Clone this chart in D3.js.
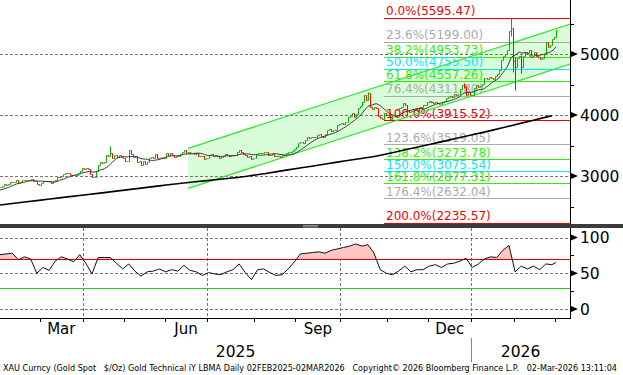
<!DOCTYPE html>
<html>
<head>
<meta charset="utf-8">
<script src="https://cdn.jsdelivr.net/npm/d3@7"></script>
<style>
  body { margin: 0; background: #fff; }
  text { font-family: "DejaVu Sans", sans-serif; }
</style>
</head>
<body>
<div id="chart"></div>
<script>
// months on the axis and trading days in each
const monthNames = ["Feb", "Mar", "Apr", "May", "Jun", "Jul", "Aug", "Sep", "Oct", "Nov", "Dec", "Jan", "Feb", "Mar"];
const monthDays = [20, 21, 20, 20, 21, 23, 20, 22, 23, 20, 21, 21, 20, 1];
const labelledMonths = [1, 4, 7, 10];   // Mar, Jun, Sep, Dec
const quarterMonths = [2, 5, 8, 11];    // Apr, Jul, Oct, Jan
const yearLabels = ["2025", "2026"];
const yearStartMonth = [0, 11];

// daily closes
const closesFeb25 = [2815, 2843, 2867, 2856, 2861, 2908, 2898, 2905, 2929, 2883, 2898, 2935, 2933, 2940, 2936, 2952, 2915, 2916, 2876, 2858];
const closesMar25 = [2893, 2918, 2920, 2911, 2910, 2888, 2916, 2934, 2988, 2984, 3001, 3034, 3048, 3044, 3022, 3012, 3019, 3020, 3057, 3085, 3124];
const closesApr25 = [3113, 3134, 3114, 3037, 2982, 2983, 3083, 3175, 3237, 3211, 3226, 3343, 3327, 3381, 3288, 3349, 3319, 3343, 3317, 3289];
const closesMay25 = [3238, 3240, 3431, 3366, 3306, 3325, 3229, 3250, 3177, 3240, 3204, 3230, 3290, 3315, 3295, 3358, 3301, 3288, 3318, 3289];
const closesJun25 = [3380, 3352, 3374, 3352, 3310, 3325, 3322, 3354, 3387, 3432, 3385, 3388, 3370, 3369, 3368, 3369, 3323, 3332, 3328, 3274, 3303];
const closesJul25 = [3338, 3357, 3326, 3337, 3335, 3301, 3313, 3325, 3355, 3343, 3324, 3347, 3339, 3350, 3397, 3431, 3388, 3368, 3337, 3314, 3326, 3274, 3290];
const closesAug25 = [3363, 3373, 3381, 3370, 3397, 3398, 3342, 3348, 3356, 3335, 3336, 3332, 3315, 3347, 3339, 3372, 3393, 3396, 3416, 3448];
const closesSep25 = [3476, 3533, 3559, 3545, 3587, 3636, 3625, 3641, 3634, 3643, 3679, 3690, 3659, 3644, 3685, 3747, 3764, 3736, 3749, 3760, 3833, 3859];
const closesOct25 = [3866, 3857, 3886, 3961, 3985, 4040, 3975, 4017, 4110, 4142, 4209, 4326, 4252, 4356, 4125, 4094, 4126, 4112, 3982, 3952, 3930, 4025, 4002];
const closesNov25 = [4000, 3932, 3980, 3977, 4001, 4116, 4128, 4195, 4172, 4085, 4046, 4067, 4078, 4077, 4065, 4135, 4132, 4165, 4156, 4218];
const closesDec25 = [4231, 4206, 4200, 4207, 4197, 4188, 4208, 4228, 4279, 4300, 4305, 4303, 4339, 4330, 4340, 4420, 4490, 4480, 4330, 4370, 4320];
const closesJan26 = [4330, 4440, 4495, 4455, 4475, 4510, 4600, 4590, 4630, 4610, 4590, 4640, 4680, 4740, 4900, 4960, 5000, 5060, 5380, 5420, 4880];
const closesFeb26 = [4790, 4940, 4970, 4780, 4960, 5040, 5010, 5070, 4990, 5040, 4970, 4950, 4920, 4940, 5000, 5190, 5120, 5150, 5240, 5280];
const closesMar26 = [5390];
// closes before the window, only for the short moving average
const priorCloses = [2743, 2755, 2754, 2771, 2740, 2763, 2760, 2795, 2798];

// days whose range reaches past the open/close
const spikeIdx = [54, 180, 227, 250, 251, 252, 255];
const spikeHigh = [3500, 4381, 4530, 5595, 5420, 4950, 4980];
const spikeLow = [3370, 4250, 4440, 5300, 4700, 4410, 4690];

// 200 day average, every 10th bar
const ma200 = [2525, 2565, 2605, 2645, 2684, 2724, 2765, 2806, 2847, 2886, 2920, 2956, 2993, 3042,
  3096, 3148, 3200, 3254, 3303, 3369, 3442, 3516, 3592, 3667, 3744, 3825, 3907, 3989];

// RSI, every 3rd bar, last one is the final bar
const rsi = [76, 77, 78, 69, 73, 70, 50, 58, 54, 67, 73, 70, 66, 76, 64, 49, 72, 72, 72, 64,
  56, 63, 53, 46, 52, 53, 56, 52, 55, 53, 61, 54, 52, 47, 51, 49, 48, 52, 55, 63,
  51, 41, 55, 56, 51, 47, 48, 56, 66, 77, 78, 79, 80, 78, 82, 84, 86, 88, 91, 88,
  90, 78, 55, 50, 48, 53, 60, 52, 55, 55, 60, 62, 58, 63, 64, 67, 71, 58, 63, 70,
  73, 72, 82, 89, 52, 60, 56, 60, 55, 63, 62, 65];

// fibonacci retracement
const fibPct = ["0.0", "23.6", "38.2", "50.0", "61.8", "76.4", "100.0", "123.6", "138.2", "150.0", "161.8", "176.4", "200.0"];
const fibPrice = [5595.47, 5199.00, 4953.73, 4755.50, 4557.26, 4311.80, 3915.52, 3519.05, 3273.78, 3075.54, 2877.31, 2632.04, 2235.57];
const fibColor = ["#ee0000", "#aaaaaa", "#33ee00", "#00e8ff", "#33ee00", "#aaaaaa", "#ee0000", "#aaaaaa", "#33ee00", "#00e8ff", "#33ee00", "#aaaaaa", "#ee0000"];
const fibStart = 188;

// trend channel: [start bar, end bar], upper and lower prices
const channelIdx = [92, 279];
const channelUpper = [3454, 5492];
const channelLower = [2798, 4836];

const priceTicks = [3000, 4000, 5000];
const priceMinor = [2500, 3500, 4500, 5500];
const rsiTicks = [0, 50, 100];
const rsiMinor = [25, 75];

const footer = "XAU Curncy (Gold Spot   $/Oz) Gold Technical iY LBMA Daily 02FEB2025-02MAR2026   Copyright\u00a9 2026 Bloomberg Finance L.P.   02-Mar-2026 13:11:04";

const closes = [].concat(closesFeb25, closesMar25, closesApr25, closesMay25, closesJun25, closesJul25,
  closesAug25, closesSep25, closesOct25, closesNov25, closesDec25, closesJan26, closesFeb26, closesMar26);
const n = closes.length;

const bars = closes.map(function(c, i) {
  const o = i === 0 ? c : closes[i - 1];
  let hi = Math.max(o, c), lo = Math.min(o, c);
  const s = spikeIdx.indexOf(i);
  if (s >= 0) { hi = Math.max(hi, spikeHigh[s]); lo = Math.min(lo, spikeLow[s]); }
  return { i: i, o: o, c: c, h: hi, l: lo };
});

// 10 day simple average
const all = priorCloses.concat(closes);
const ma10 = closes.map(function(c, i) {
  return d3.mean(all.slice(i, i + 10));
});

// month starts in bar index
const monthStart = [];
let acc = 0;
monthDays.forEach(function(d) { monthStart.push(acc); acc += d; });

const W = 623, H = 375;
const right = 570;

const x = d3.scaleLinear().domain([0, n - 1]).range([0, 556]);
const y = d3.scaleLinear().domain([3000, 5000]).range([176, 54]);
const yR = d3.scaleLinear().domain([0, 100]).range([309, 237.5]);
const px = function(i) { return Math.round(x(i)) + 0.5; };
const py = function(v) { return Math.round(y(v)) + 0.5; };

const svg = d3.select("#chart").append("svg")
  .attr("width", W)
  .attr("height", H);

svg.append("rect").attr("width", W).attr("height", H).attr("fill", "#fff");

const defs = svg.append("defs");
defs.append("clipPath").attr("id", "clipMain")
  .append("rect").attr("x", 0).attr("y", 0).attr("width", right).attr("height", 224);
defs.append("clipPath").attr("id", "clipRsi")
  .append("rect").attr("x", 0).attr("y", 228).attr("width", right).attr("height", 90);
defs.append("clipPath").attr("id", "clipOver")
  .append("rect").attr("x", 0).attr("y", 228).attr("width", right).attr("height", yR(70) - 228);

// ---------- main panel ----------
const main = svg.append("g").attr("clip-path", "url(#clipMain)");

const chan = [
  [x(channelIdx[0]), y(channelUpper[0])],
  [x(channelIdx[1]), y(channelUpper[1])],
  [x(channelIdx[1]), y(channelLower[1])],
  [x(channelIdx[0]), y(channelLower[0])]
];
main.append("polygon")
  .attr("points", chan.map(function(p) { return p.join(","); }).join(" "))
  .attr("fill", "#d8fdd8");

main.selectAll(".grid")
  .data(priceTicks)
  .enter().append("line")
  .attr("x1", 0).attr("x2", right)
  .attr("y1", function(d) { return py(d); })
  .attr("y2", function(d) { return py(d); })
  .attr("stroke", "#777").attr("stroke-dasharray", "3,2");

main.selectAll(".fib")
  .data(fibPrice)
  .enter().append("line")
  .attr("x1", Math.round(x(fibStart))).attr("x2", right)
  .attr("y1", function(d) { return py(d); })
  .attr("y2", function(d) { return py(d); })
  .attr("stroke", function(d, i) { return fibColor[i]; })
  .attr("stroke-width", 1.2);

main.selectAll(".fibLabel")
  .data(fibPrice)
  .enter().append("text")
  .attr("x", Math.round(x(fibStart)) + 2)
  .attr("y", function(d) { return y(d) - 2.5; })
  .attr("fill", function(d, i) { return fibColor[i]; })
  .attr("font-size", "12px")
  .text(function(d, i) { return fibPct[i] + "%(" + d.toFixed(2) + ")"; });

main.append("line")
  .attr("x1", chan[0][0]).attr("y1", chan[0][1])
  .attr("x2", chan[1][0]).attr("y2", chan[1][1])
  .attr("stroke", "#33e633").attr("stroke-width", 1.3);
main.append("line")
  .attr("x1", chan[3][0]).attr("y1", chan[3][1])
  .attr("x2", chan[2][0]).attr("y2", chan[2][1])
  .attr("stroke", "#33e633").attr("stroke-width", 1.3);

main.append("path")
  .datum(ma200)
  .attr("fill", "none")
  .attr("stroke", "#000")
  .attr("stroke-width", 1.6)
  .attr("d", d3.line()
    .x(function(d, i) { return x(Math.min(i * 10, n - 1)); })
    .y(function(d) { return y(d); })
    .curve(d3.curveMonotoneX));

const barG = main.append("g");
barG.selectAll(".bar")
  .data(bars)
  .enter().append("path")
  .attr("fill", "none")
  .attr("stroke", function(d) { return d.c >= d.o ? "#00b400" : "#ff0000"; })
  .attr("stroke-width", 1)
  .attr("d", function(d) {
    const xx = px(d.i);
    return "M" + xx + "," + py(d.h) + "V" + py(d.l) +
      "M" + (xx - 1) + "," + py(d.o) + "H" + xx +
      "M" + xx + "," + py(d.c) + "H" + (xx + 1);
  });

main.append("path")
  .datum(ma10)
  .attr("fill", "none")
  .attr("stroke", "#3a3a3a")
  .attr("stroke-width", 1)
  .attr("d", d3.line()
    .x(function(d, i) { return x(i); })
    .y(function(d) { return y(d); }));

// ---------- RSI panel ----------
const low = svg.append("g").attr("clip-path", "url(#clipRsi)");
const rsiX = function(d, i) { return x(Math.min(i * 3, n - 1)); };

low.selectAll(".grid")
  .data(rsiTicks)
  .enter().append("line")
  .attr("x1", 0).attr("x2", right)
  .attr("y1", function(d) { return Math.round(yR(d)) + 0.5; })
  .attr("y2", function(d) { return Math.round(yR(d)) + 0.5; })
  .attr("stroke", "#777").attr("stroke-dasharray", "3,2");

low.selectAll(".qgrid")
  .data(quarterMonths)
  .enter().append("line")
  .attr("x1", function(d) { return Math.round(x(monthStart[d] - 0.5)) + 0.5; })
  .attr("x2", function(d) { return Math.round(x(monthStart[d] - 0.5)) + 0.5; })
  .attr("y1", 228).attr("y2", 318)
  .attr("stroke", "#777").attr("stroke-dasharray", "3,2");

low.append("path")
  .datum(rsi)
  .attr("clip-path", "url(#clipOver)")
  .attr("fill", "#ffc4c4")
  .attr("d", d3.area().x(rsiX).y0(yR(70)).y1(function(d) { return yR(d); }));

low.append("line")
  .attr("x1", 0).attr("x2", right)
  .attr("y1", Math.round(yR(70)) + 0.5).attr("y2", Math.round(yR(70)) + 0.5)
  .attr("stroke", "#dd0000").attr("stroke-width", 1.2);
low.append("line")
  .attr("x1", 0).attr("x2", right)
  .attr("y1", Math.round(yR(30)) + 0.5).attr("y2", Math.round(yR(30)) + 0.5)
  .attr("stroke", "#22cc22").attr("stroke-width", 1.2);

low.append("path")
  .datum(rsi)
  .attr("fill", "none")
  .attr("stroke", "#111")
  .attr("stroke-width", 1)
  .attr("d", d3.line().x(rsiX).y(function(d) { return yR(d); }));

// ---------- separator ----------
svg.append("rect").attr("x", 0).attr("y", 224).attr("width", W).attr("height", 4).attr("fill", "#3c3c3c");
[225.5, 227].forEach(function(yy) {
  svg.append("line").attr("x1", 303).attr("x2", 318).attr("y1", yy).attr("y2", yy)
    .attr("stroke", "#aaa").attr("stroke-width", 0.8);
});

// ---------- right axis ----------
const axisG = svg.append("g");
axisG.append("line").attr("x1", right + 0.5).attr("x2", right + 0.5).attr("y1", 0).attr("y2", 224)
  .attr("stroke", "#000");
axisG.append("line").attr("x1", right + 0.5).attr("x2", right + 0.5).attr("y1", 228).attr("y2", 319)
  .attr("stroke", "#000");

function arrowTicks(ticks, scale) {
  axisG.selectAll(null)
    .data(ticks)
    .enter().append("path")
    .attr("d", function(d) {
      const yy = scale(d);
      return "M" + (right + 1) + "," + (yy - 3) + "L" + (right + 8) + "," + yy + "L" + (right + 1) + "," + (yy + 3) + "Z";
    })
    .attr("fill", "#000");
  axisG.selectAll(null)
    .data(ticks)
    .enter().append("text")
    .attr("x", right + 10)
    .attr("y", function(d) { return scale(d); })
    .attr("dy", "0.36em")
    .attr("font-size", "15.5px")
    .attr("fill", "#000")
    .text(function(d) { return d; });
}
function minorTicks(ticks, scale) {
  axisG.selectAll(null)
    .data(ticks)
    .enter().append("line")
    .attr("x1", right).attr("x2", right + 4)
    .attr("y1", function(d) { return Math.round(scale(d)) + 0.5; })
    .attr("y2", function(d) { return Math.round(scale(d)) + 0.5; })
    .attr("stroke", "#000");
}
arrowTicks(priceTicks, y);
minorTicks(priceMinor, y);
arrowTicks(rsiTicks, yR);
minorTicks(rsiMinor, yR);

// ---------- bottom axis ----------
axisG.append("line").attr("x1", 0).attr("x2", right + 1).attr("y1", 318.5).attr("y2", 318.5)
  .attr("stroke", "#000");

axisG.selectAll(".mtick")
  .data(monthStart.slice(1))
  .enter().append("line")
  .attr("x1", function(d) { return Math.round(x(d - 0.5)) + 0.5; })
  .attr("x2", function(d) { return Math.round(x(d - 0.5)) + 0.5; })
  .attr("y1", 318).attr("y2", 322)
  .attr("stroke", "#000");

axisG.selectAll(".mlabel")
  .data(labelledMonths)
  .enter().append("text")
  .attr("x", function(m) { return x(monthStart[m] + (monthDays[m] - 1) / 2); })
  .attr("y", 334)
  .attr("text-anchor", "middle")
  .attr("font-size", "15px")
  .text(function(m) { return monthNames[m]; });

const yearEdges = yearStartMonth.map(function(m) { return m === 0 ? 0 : x(monthStart[m] - 0.5); });
axisG.selectAll(".ylabel")
  .data(yearLabels)
  .enter().append("text")
  .attr("x", function(d, i) {
    const a = yearEdges[i], b = i + 1 < yearEdges.length ? yearEdges[i + 1] : right;
    return (a + b) / 2;
  })
  .attr("y", 357)
  .attr("text-anchor", "middle")
  .attr("font-size", "15.5px")
  .text(function(d) { return d; });

axisG.append("line")
  .attr("x1", Math.round(yearEdges[1]) + 0.5).attr("x2", Math.round(yearEdges[1]) + 0.5)
  .attr("y1", 338).attr("y2", 362)
  .attr("stroke", "#888");

svg.append("text")
  .attr("x", 3)
  .attr("y", 371)
  .attr("font-size", "9px")
  .style("white-space", "pre")
  .attr("textLength", 614)
  .attr("lengthAdjust", "spacingAndGlyphs")
  .text(footer);
</script>
</body>
</html>
